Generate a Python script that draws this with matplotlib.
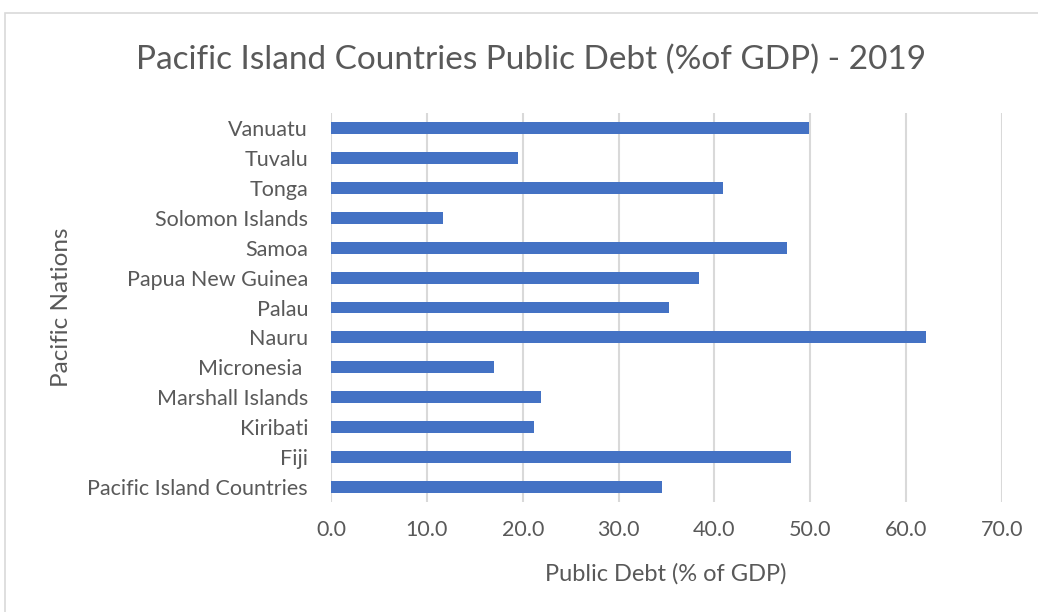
import matplotlib.pyplot as plt
from matplotlib.patches import Rectangle

countries = ['Pacific Island Countries', 'Fiji', 'Kiribati', 'Marshall Islands',
             'Micronesia ', 'Nauru', 'Palau', 'Papua New Guinea', 'Samoa',
             'Solomon Islands', 'Tonga', 'Tuvalu', 'Vanuatu']
debt = [34.5, 48.0, 21.2, 21.9, 17.0, 62.1, 35.3, 38.4, 47.6, 11.7, 40.9, 19.5, 49.9]
xticks = [0, 10, 20, 30, 40, 50, 60, 70]

plt.rcParams['font.family'] = ['Lato', 'DejaVu Sans']
grey = '#595959'

fig = plt.figure(figsize=(10.38, 6.12), dpi=100)
fig.patches.append(Rectangle((5 / 1038, -0.1), 1.2, 1.1 - 13 / 612,
                             transform=fig.transFigure, fill=False,
                             edgecolor='#d9d9d9', linewidth=1.2))

ax = fig.add_axes([331 / 1038, 1 - 502 / 612, 671 / 1038, 389 / 612])
ax.barh(range(len(countries)), debt, height=0.4, color='#4472C4', zorder=3)

ax.set_xlim(0, 70)
ax.set_ylim(-0.5, len(countries) - 0.5)
ax.set_xticks(xticks)
ax.set_xticklabels(['%.1f' % t for t in xticks])
ax.set_yticks(range(len(countries)))
ax.set_yticklabels(countries)
ax.tick_params(length=0, labelsize=15.5, colors=grey)
ax.tick_params(axis='x', pad=13)
ax.tick_params(axis='y', pad=16.5)
ax.grid(axis='x', color='#d9d9d9', linewidth=1.5, zorder=0)
for s in ax.spines.values():
    s.set_visible(False)

fig.text(666 / 1038, 1 - 574 / 612, 'Public Debt (% of GDP)', fontsize=17,
         color=grey, ha='center', va='center')
fig.text(62 / 1038, 1 - 307 / 612, 'Pacific Nations', rotation=90, fontsize=17.5,
         color=grey, ha='center', va='center')
fig.text(531 / 1038, 1 - 60 / 612, 'Pacific Island Countries Public Debt (%of GDP) - 2019',
         fontsize=24, color=grey, ha='center', va='center')

fig.savefig('out.png', dpi=100, facecolor='white')
